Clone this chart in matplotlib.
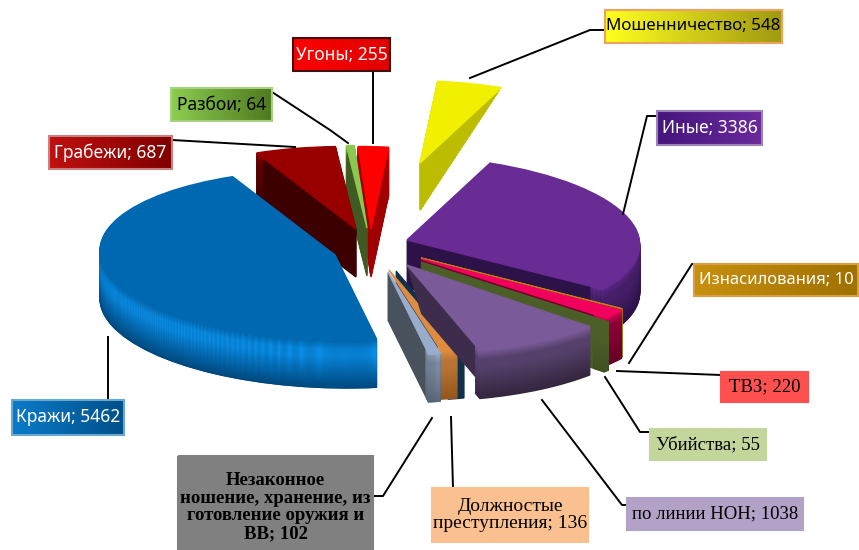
import numpy as np
import matplotlib
matplotlib.use("Agg")
import matplotlib.pyplot as plt
from matplotlib.colors import to_rgb, LinearSegmentedColormap
from matplotlib.patches import Rectangle
from matplotlib.transforms import Affine2D

# data, clockwise from the top right
names = ["Иные", "Изнасилования", "ТВЗ", "Убийства", "по линии НОН", "Должностые\nпреступления",
         "Незаконное\nношение, хранение, из\nготовление оружия и\nВВ", "Кражи", "Грабежи", "Разбои",
         "Угоны", "Мошенничество"]
values = [3386, 10, 220, 55, 1038, 136, 102, 5462, 687, 64, 255, 548]

# tilt of the pie in pixels
ex = (218, -20)
ey = (-67, -80)
start = 52
depth = 48
step = 1

# apex of every slice (pixels), and how far each one reaches
apex = [(407, 240), (421, 258), (421, 259), (421, 262), (407, 265), (389, 270),
        (388, 272), (335, 255), (356, 229), (367, 228), (371, 229), (420, 163)]
reach = [1.02, 1.05, 1.05, 1.07, 1.07, 1.0, 1.0, 1.03, 1.0, 1.0, 1.0, 1.0]
# inner side faces: sideways lean, fixed offset, narrowing towards the bottom
slant = [0, 0, 0, 0, 0.3, 0, 0, 0, 0, 0, 0, 0]
shift = [0, 0, 0, 0, 0, 7, 0, 0, 0, 0, 0, 0]
taper = [0, 0, 0, 0, 0.2, 0, 0, 0, 0, 0, 0, 1.0]
# rim: 1 above the inner faces, 0 mixed with them, -1 not drawn
rim_mode = [0, 0, 0, 0, 1, 1, 0, 0, 0, 0, 0, -1]
top_col = ["#682c94", "#b8860b", "#f0005c", "#4c5e28", "#7a5a98", "#e08c40",
           "#9aaccc", "#0068b0", "#980000", "#8cc850", "#ff0000", "#f0f000"]
inner_col = ["#2c1247", "#8a6408", "#700028", "#4c5e28", "#3e2c4c", "#12304a",
             "#48525c", "#004f88", "#3c0000", "#3f5a22", "#a00000", "#bcbc00"]
rim_light = ["#4c2272", "#a87c10", "#90003a", "#4c5e28", "#54406a", "#b87434",
             "#7e8ea4", "#0a90ea", "#600000", "#4f7028", "#d00000", "#bcbc00"]
rim_dark = ["#2c1247", "#8a6408", "#640026", "#3f4f22", "#33263e", "#94561c",
            "#5c6a7c", "#00477c", "#3c0000", "#3f5a22", "#a00000", "#bcbc00"]
draw_order = [11, 0, 10, 9, 8, 7, 1, 2, 3, 5, 6, 4]

# labels: box x0, y0, x1, y1, gradient colours, border, text colour, font
boxes = [
    ((657, 111, 762, 145), "#45167c", "#6a2a9c", "#9a84b4", "white", "Noto Sans", 12.5, "normal"),
    ((694, 264, 858, 296), "#c89010", "#a07000", "#d8a040", "white", "Noto Sans", 12, "normal"),
    ((721, 372, 808, 402), "#ff5050", "#ff5050", "#ff5050", "black", "Liberation Serif", 13.5, "normal"),
    ((650, 429, 766, 460), "#c3d69b", "#c3d69b", "#c3d69b", "black", "Liberation Serif", 13.5, "normal"),
    ((627, 498, 803, 530), "#b3a2c7", "#b3a2c7", "#b3a2c7", "black", "Liberation Serif", 13.5, "normal"),
    ((432, 488, 588, 542), "#fac090", "#fac090", "#fac090", "black", "Liberation Serif", 14, "normal"),
    ((178, 456, 373, 556), "#808080", "#808080", "#808080", "black", "Liberation Serif", 13.5, "bold"),
    ((12, 400, 124, 435), "#0a7ac8", "#00508a", "#6aa8d0", "white", "Noto Sans", 12.5, "normal"),
    ((49, 136, 172, 169), "#c01010", "#800000", "#c88080", "white", "Noto Sans", 12.5, "normal"),
    ((171, 88, 272, 121), "#8ccc50", "#4f7a20", "#a8d080", "black", "Noto Sans", 12.5, "normal"),
    ((293, 38, 390, 71), "#ff0000", "#e00000", "#401010", "white", "Noto Sans", 12.5, "normal"),
    ((605, 10, 782, 43), "#ffff20", "#a09a10", "#f0a060", "black", "Noto Sans", 12.2, "normal"),
]
leaders = [
    [(657, 116), (647, 116), (623, 214)],
    [(694, 264), (692, 264), (629, 363)],
    [(721, 375), (617, 371)],
    [(650, 432), (640, 432), (605, 377)],
    [(627, 505), (622, 505), (542, 400)],
    [(453, 488), (451, 417)],
    [(373, 496), (383, 496), (432, 418)],
    [(108, 400), (108, 337)],
    [(172, 140), (295, 147)],
    [(272, 92), (330, 130), (348, 143)],
    [(373, 72), (373, 143)],
    [(606, 30), (590, 30), (470, 78)],
]

fig = plt.figure(figsize=(8.59, 5.5), dpi=100)
ax = fig.add_axes([0, 0, 1, 1])


def layer(colors, dy, z, width=None, inner=False):
    props = {"linewidth": 1.0}
    if width:
        props["width"] = width
    wedges, _ = ax.pie(values, startangle=start, counterclock=False, colors=colors,
                       radius=1, wedgeprops=props)
    for i, w in enumerate(wedges):
        r = reach[i]
        dx = 0
        zi = z
        if inner:
            r = r * (1 - taper[i] * dy / depth)
            dx = slant[i] * dy + shift[i]
        if width and rim_mode[i] == 1:
            zi = z + 200
        if width and rim_mode[i] == -1:
            w.set_visible(False)
        w.set_edgecolor(colors[i])
        w.set_transform(Affine2D.from_values(ex[0] * r, ex[1] * r, ey[0] * r, ey[1] * r,
                                             apex[i][0] + dx, apex[i][1] + dy) + ax.transData)
        w.set_zorder(draw_order.index(i) * 1000 + zi)


def mix(a, b, f):
    return tuple(np.array(to_rgb(a)) * (1 - f) + np.array(to_rgb(b)) * f)


for k, dy in enumerate(range(depth, 0, -step)):
    f = dy / depth
    rims = []
    for i in range(len(values)):
        if f < 0.2:
            rims.append(mix(top_col[i], rim_light[i], f / 0.2))
        elif f < 0.35:
            rims.append(rim_light[i])
        else:
            rims.append(mix(rim_light[i], rim_dark[i], (f - 0.35) / 0.65))
    layer(inner_col, dy, 2 * k, inner=True)
    layer(rims, dy, 2 * k + 1, width=0.06)
layer(top_col, 0, 900)

# leader lines and labels
for pts in leaders:
    xs, ys = zip(*pts)
    ax.plot(xs, ys, color="black", lw=1.4, zorder=20000)

for i, (b, c0, c1, border, tc, font, size, weight) in enumerate(boxes):
    x0, y0, x1, y1 = b
    cmap = LinearSegmentedColormap.from_list("g", [c0, c1])
    ax.imshow(np.linspace(0, 1, 64).reshape(1, -1), cmap=cmap, extent=(x0, x1, y1, y0),
              aspect="auto", zorder=20001)
    ax.add_patch(Rectangle((x0, y0), x1 - x0, y1 - y0, fill=False, edgecolor=border, lw=1.5, zorder=20002))
    ax.text((x0 + x1) / 2, (y0 + min(y1, 550)) / 2 + (4 if i == 6 else 0), f"{names[i]}; {values[i]}",
            ha="center", va="center", color=tc, family=font, fontsize=size, fontweight=weight,
            linespacing=1.05, zorder=20003)

ax.set_aspect("auto")
ax.set_xlim(0, 859)
ax.set_ylim(550, 0)
ax.axis("off")
fig.savefig("out.png", dpi=100)
